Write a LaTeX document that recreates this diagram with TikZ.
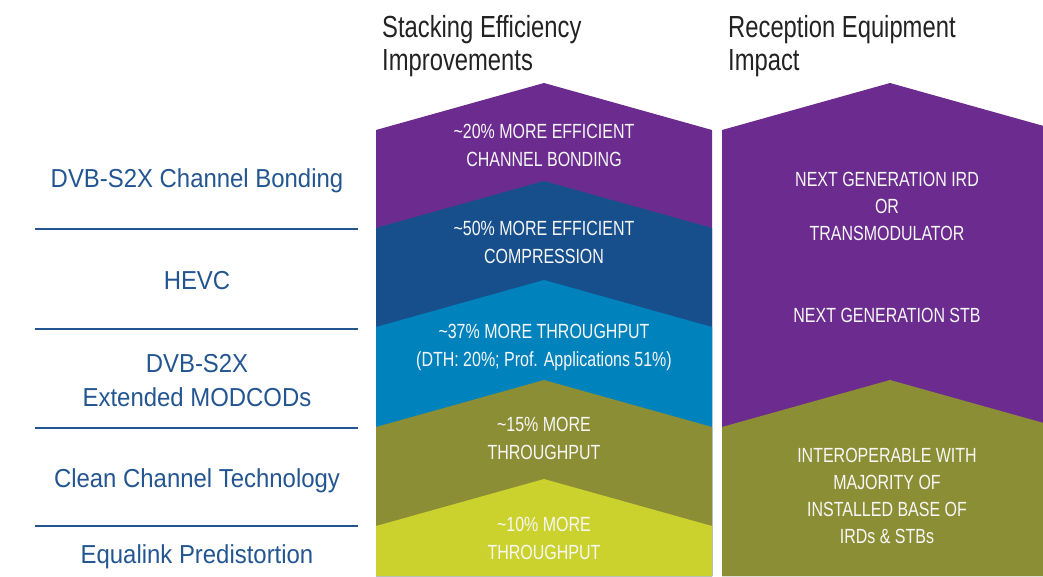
\documentclass[tikz,border=0pt]{standalone}
\usepackage{fontspec}
\setmainfont{Liberation Sans}
\newfontfamily\condfont[FakeStretch=0.78]{Liberation Sans}
\newfontfamily\labfont[FakeStretch=0.92]{Liberation Sans}
\definecolor{cpurple}{HTML}{6C2C8F}
\definecolor{cdblue}{HTML}{174F8C}
\definecolor{clblue}{HTML}{0082BD}
\definecolor{colive}{HTML}{8C8E35}
\definecolor{clime}{HTML}{CBD22E}
\definecolor{labblue}{HTML}{235591}
\definecolor{ttlgray}{HTML}{222222}
\begin{document}
\begin{tikzpicture}[x=1pt,y=-1pt,
  chev/.style={inner sep=0pt, anchor=north, align=center, text=white!94!gray,
    font=\condfont\fontsize{20.5}{27.5}\selectfont},
  rchev/.style={chev, font=\condfont\fontsize{20.5}{27}\selectfont},
  lab/.style={inner sep=0pt, anchor=north, align=center, text=labblue,
    font=\labfont\fontsize{26}{34}\selectfont},
  ttl/.style={inner sep=0pt, anchor=north west, align=left, text=ttlgray,
    font=\condfont\fontsize{30.5}{33}\selectfont},
  sepline/.style={draw=labblue, line width=1.5pt}]
\useasboundingbox (0,0) rectangle (1043,576);
\clip (0,0) rectangle (1043,576);

% middle stacked chevrons
\fill[cpurple] (376,130) -- (544,83) -- (712,130) -- (712,576) -- (376,576) -- cycle;
\fill[cdblue]  (376,228) -- (544,181) -- (712,228) -- (712,576) -- (376,576) -- cycle;
\fill[clblue]  (376,327) -- (544,280) -- (712,327) -- (712,576) -- (376,576) -- cycle;
\fill[colive]  (376,427) -- (544,380) -- (712,427) -- (712,576) -- (376,576) -- cycle;
\fill[clime]   (376,526) -- (544,479) -- (712,526) -- (712,576) -- (376,576) -- cycle;

% right chevrons
\fill[cpurple] (722,130) -- (890,83) -- (1058,130) -- (1058,576) -- (722,576) -- cycle;
\fill[colive]  (722,427) -- (890,380) -- (1058,427) -- (1058,576) -- (722,576) -- cycle;

% titles
\node[ttl] (ttlA) at (382,15) {Stacking Efficiency\\Improvements};
\node[ttl] (ttlB) at (728,15) {Reception Equipment\\Impact};

% middle texts
\node[chev] (m1) at (544,124) {\textasciitilde 20\% MORE EFFICIENT\\CHANNEL BONDING};
\node[chev] (m2) at (544,221) {\textasciitilde 50\% MORE EFFICIENT\\COMPRESSION};
\node[chev] (m3) at (544,324) {\textasciitilde 37\% MORE THROUGHPUT\\(DTH: 20\%; Prof. Applications 51\%)};
\node[chev] (m4) at (544,417) {\textasciitilde 15\% MORE\\THROUGHPUT};
\node[chev] (m5) at (544,517) {\textasciitilde 10\% MORE\\THROUGHPUT};

% right texts
\node[rchev] (r1) at (887,172) {NEXT GENERATION IRD\\OR\\TRANSMODULATOR};
\node[rchev] (r2) at (887,308) {NEXT GENERATION STB};
\node[rchev] (r3) at (887,448) {INTEROPERABLE WITH\\MAJORITY OF\\INSTALLED BASE OF\\IRDs \& STBs};

% left labels
\node[lab] (l1) at (197,168) {DVB-S2X Channel Bonding};
\node[lab] (l2) at (197,271) {HEVC};
\node[lab] (l3) at (197,354) {DVB-S2X\\Extended MODCODs};
\node[lab] (l4) at (197,468) {Clean Channel Technology};
\node[lab] (l5) at (197,544) {Equalink Predistortion};

% separator lines
\coordinate (s1a) at (35,229); \coordinate (s1b) at (358,229);
\coordinate (s2a) at (35,329); \coordinate (s2b) at (358,329);
\coordinate (s3a) at (35,428); \coordinate (s3b) at (358,428);
\coordinate (s4a) at (35,526); \coordinate (s4b) at (358,526);
\draw[sepline] (s1a) -- (s1b);
\draw[sepline] (s2a) -- (s2b);
\draw[sepline] (s3a) -- (s3b);
\draw[sepline] (s4a) -- (s4b);
\end{tikzpicture}
\end{document}
